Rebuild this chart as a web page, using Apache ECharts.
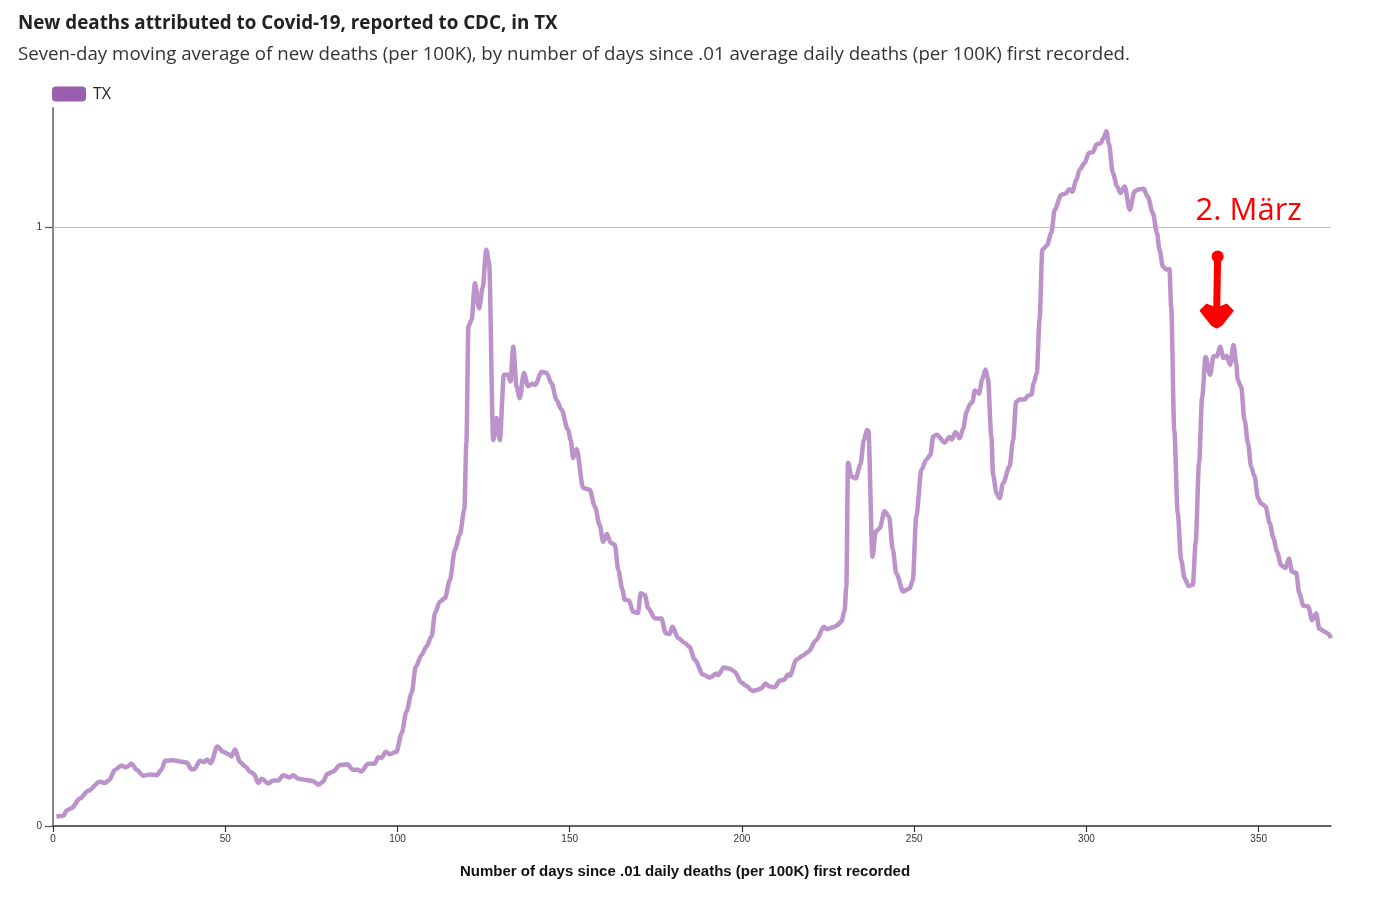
<!DOCTYPE html>
<html>
<head>
<meta charset="utf-8">
<script src="https://cdn.jsdelivr.net/npm/echarts@6/dist/echarts.min.js"></script>
<style>
html,body{margin:0;padding:0;background:#fff;}
#chart{width:1386px;height:900px;}
</style>
</head>
<body>
<div id="chart"></div>
<script>
const titleText = 'New deaths attributed to Covid-19, reported to CDC, in TX';
const subtitleText = 'Seven-day moving average of new deaths (per 100K), by number of days since .01 average daily deaths (per 100K) first recorded.';
const xAxisName = 'Number of days since .01 daily deaths (per 100K) first recorded';
const seriesName = 'TX';
const annotationText = '2. März';

const days = [
1.0,3.0,4.0,5.4,7.8,10.2,13.6,15.1,16.3,18.0,19.9,21.2,22.8,24.3,26.2,28.1,30.1,31.5,32.5,34.9,
36.9,38.8,40.2,41.0,42.7,43.8,44.8,45.8,47.7,49.4,51.0,51.8,52.8,54.3,55.7,57.2,58.3,59.6,60.6,62.5,
63.9,65.4,66.8,68.6,69.7,71.2,73.6,75.5,77.0,78.4,79.6,81.3,83.3,85.5,87.0,88.6,89.4,91.5,93.4,94.4,
95.4,96.6,97.8,99.7,101.2,102.6,104.1,105.3,107.0,108.4,109.9,110.9,112.3,113.8,115.2,116.7,118.1,119.4,120.0,120.6,
121.5,122.5,123.7,124.7,125.8,126.6,127.8,128.8,129.7,130.9,132.1,132.8,133.6,134.6,135.5,136.7,137.9,139.2,140.0,141.8,
143.3,144.7,146.2,147.6,149.5,150.3,151.0,152.0,153.9,155.8,157.3,158.7,159.7,160.8,161.8,163.1,164.1,165.3,166.0,167.2,
168.4,169.8,170.6,171.8,172.8,174.7,176.6,177.9,179.0,179.8,181.5,183.4,184.7,186.3,188.7,190.7,192.6,193.1,194.7,196.5,
197.9,199.8,201.3,203.0,204.2,205.6,206.8,208.1,209.5,211.0,212.1,213.4,213.9,215.8,217.7,219.2,221.6,223.8,224.7,226.5,
227.5,228.9,229.8,230.3,230.8,231.8,233.0,234.4,235.4,236.3,236.7,237.9,238.8,240.0,241.4,242.7,243.8,244.8,246.8,248.7,
249.6,250.6,252.1,253.5,254.7,255.5,256.6,258.8,260.3,260.9,262.0,263.2,264.2,265.2,266.1,266.9,267.6,268.8,269.8,270.7,
271.4,272.4,272.9,273.9,274.8,275.8,277.7,278.7,279.6,280.6,282.1,283.0,284.0,284.7,285.6,286.4,287.2,288.5,289.8,290.8,
292.7,294.0,295.0,295.9,297.1,298.0,299.5,300.7,301.9,302.9,304.1,305.0,305.8,306.5,307.7,308.9,309.9,311.1,312.6,314.0,
315.3,316.6,317.8,319.3,320.5,321.2,322.2,323.2,324.1,324.6,325.5,326.5,327.5,328.5,329.7,330.9,331.7,332.7,333.6,334.6,
335.9,336.9,337.9,338.8,339.8,340.7,341.7,342.7,343.5,343.9,344.9,345.9,346.9,347.8,348.8,349.8,350.7,352.0,353.2,354.3,
355.3,356.5,357.8,358.8,359.7,360.9,361.8,363.0,364.4,365.5,366.7,367.6,369.1,370.3,371.0
];

const txValues = [
0.016,0.017,0.026,0.030,0.046,0.059,0.074,0.072,0.077,0.094,0.101,0.098,0.104,0.094,0.084,0.086,0.085,0.094,0.109,0.110,
0.108,0.106,0.095,0.095,0.109,0.107,0.111,0.105,0.133,0.124,0.120,0.116,0.128,0.107,0.100,0.091,0.087,0.072,0.079,0.071,
0.076,0.076,0.085,0.081,0.085,0.079,0.077,0.075,0.069,0.074,0.087,0.091,0.102,0.103,0.094,0.094,0.091,0.104,0.104,0.115,
0.114,0.124,0.120,0.124,0.155,0.191,0.222,0.266,0.286,0.300,0.317,0.356,0.375,0.381,0.411,0.462,0.487,0.528,0.640,0.835,
0.846,0.907,0.865,0.899,0.963,0.941,0.645,0.682,0.645,0.754,0.754,0.743,0.801,0.734,0.715,0.757,0.735,0.739,0.737,0.759,
0.757,0.740,0.712,0.696,0.662,0.645,0.615,0.630,0.565,0.562,0.534,0.503,0.475,0.488,0.474,0.470,0.428,0.395,0.378,0.377,
0.358,0.356,0.389,0.386,0.364,0.347,0.347,0.322,0.321,0.333,0.314,0.306,0.300,0.278,0.253,0.248,0.255,0.252,0.265,0.263,
0.258,0.240,0.234,0.226,0.227,0.230,0.238,0.233,0.232,0.243,0.244,0.253,0.251,0.278,0.285,0.291,0.311,0.333,0.329,0.332,
0.335,0.342,0.360,0.400,0.607,0.584,0.581,0.604,0.645,0.662,0.660,0.450,0.492,0.498,0.526,0.517,0.462,0.422,0.392,0.397,
0.411,0.517,0.595,0.612,0.620,0.651,0.654,0.641,0.650,0.646,0.658,0.648,0.664,0.692,0.704,0.709,0.728,0.723,0.747,0.763,
0.748,0.651,0.587,0.556,0.548,0.573,0.601,0.645,0.709,0.713,0.713,0.719,0.721,0.740,0.757,0.846,0.963,0.970,0.991,1.030,
1.055,1.057,1.064,1.060,1.080,1.097,1.108,1.125,1.126,1.139,1.141,1.150,1.161,1.141,1.091,1.069,1.058,1.069,1.030,1.061,
1.064,1.065,1.052,1.024,0.991,0.963,0.935,0.930,0.931,0.868,0.662,0.523,0.445,0.414,0.401,0.403,0.473,0.607,0.718,0.784,
0.754,0.785,0.785,0.801,0.782,0.786,0.771,0.804,0.773,0.746,0.734,0.679,0.640,0.601,0.584,0.548,0.539,0.534,0.506,0.481,
0.459,0.436,0.431,0.447,0.425,0.423,0.389,0.368,0.367,0.344,0.355,0.330,0.325,0.321,0.314
];

const xMin = 0, xMax = 371, xInterval = 50;
const yMin = 0, yMax = 1.2, yInterval = 1;
const gridValue = 1;

// annotation anchors in data coordinates
const annoTextPos = [331.7, 1.027];
const arrowTop = [338.1, 0.955];
const arrowTip = [337.8, 0.833];

const chart = echarts.init(document.getElementById('chart'), null, {renderer: 'canvas'});
const seriesData = days.map((d, i) => [d, txValues[i]]);

chart.setOption({
  animation: false,
  backgroundColor: '#fff',
  title: [
    {text: titleText, left: 13, top: 9, textStyle: {fontFamily: 'Open Sans', fontWeight: 'bold', fontSize: 18.8, color: '#222'}},
    {text: subtitleText, left: 13, top: 40, textStyle: {fontFamily: 'Open Sans', fontWeight: 'normal', fontSize: 18.7, color: '#333'}}
  ],
  legend: {
    left: 47, top: 81, icon: 'roundRect', itemWidth: 34, itemHeight: 15, itemGap: 10,
    textStyle: {fontFamily: 'Open Sans', fontSize: 16, color: '#222', padding: [0, 0, 0, 2]},
    data: [{name: seriesName, itemStyle: {color: '#9c5fb0'}}]
  },
  grid: {left: 53, right: 55, top: 108, bottom: 74, containLabel: false},
  xAxis: {
    type: 'value', min: xMin, max: xMax, interval: xInterval,
    name: xAxisName, nameLocation: 'middle', nameGap: 38,
    nameTextStyle: {fontFamily: 'Liberation Sans', fontWeight: 'bold', fontSize: 15, color: '#111', padding: [0, 14, 0, 0]},
    axisLine: {show: true, lineStyle: {color: '#333', width: 1.5}},
    axisTick: {show: true, length: 6, lineStyle: {color: '#333', width: 1.2}},
    axisLabel: {fontFamily: 'Liberation Sans', fontSize: 10, color: '#333', margin: 8, showMaxLabel: false},
    splitLine: {show: false}
  },
  yAxis: {
    type: 'value', min: yMin, max: yMax, interval: yInterval,
    axisLine: {show: true, lineStyle: {color: '#888', width: 2}},
    axisTick: {show: true, length: 8, lineStyle: {color: '#555', width: 1.2}},
    axisLabel: {fontFamily: 'Liberation Sans', fontSize: 10, color: '#333', margin: 11, showMaxLabel: false},
    splitLine: {show: false}
  },
  series: [{
    name: seriesName, type: 'line', data: seriesData,
    showSymbol: false, symbol: 'none', smooth: 0.3, smoothMonotone: 'x',
    lineStyle: {color: '#bb92ca', width: 4.5},
    itemStyle: {color: '#9c5fb0'},
    z: 3,
    markLine: {
      silent: true, symbol: 'none', label: {show: false},
      lineStyle: {color: '#bbb', width: 1.2, type: 'solid'},
      data: [{yAxis: gridValue}],
      z: 1
    }
  }]
});

const tp = chart.convertToPixel({gridIndex: 0}, annoTextPos);
const at = chart.convertToPixel({gridIndex: 0}, arrowTop);
const ap = chart.convertToPixel({gridIndex: 0}, arrowTip);
chart.setOption({
  graphic: [
    {type: 'text', x: tp[0], y: tp[1], style: {text: annotationText, fontFamily: 'Open Sans', fontSize: 31, fill: '#ff0000', textVerticalAlign: 'middle', textAlign: 'left'}},
    {type: 'line', shape: {x1: at[0], y1: at[1], x2: ap[0], y2: ap[1] - 14}, style: {stroke: '#ff0000', lineWidth: 7, lineCap: 'round'}},
    {type: 'circle', shape: {cx: at[0], cy: at[1] + 2, r: 6}, style: {fill: '#ff0000'}},
    {type: 'polygon', shape: {points: [[ap[0] - 16, ap[1] - 17], [ap[0] - 10, ap[1] - 23], [ap[0], ap[1] - 19], [ap[0] + 10, ap[1] - 23], [ap[0] + 16, ap[1] - 17], [ap[0] + 5, ap[1] - 3], [ap[0], ap[1]], [ap[0] - 5, ap[1] - 3]]}, style: {fill: '#ff0000', stroke: '#ff0000', lineWidth: 2, lineJoin: 'round'}}
  ]
});
</script>
</body>
</html>
